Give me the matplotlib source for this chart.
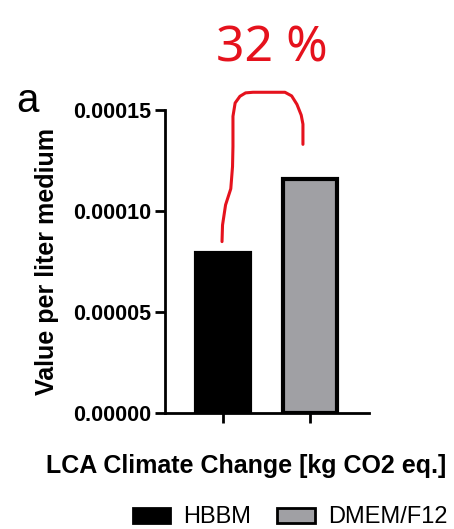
import matplotlib
matplotlib.use('Agg')
import matplotlib.pyplot as plt
from matplotlib.patches import Patch

plt.rcParams['font.family'] = ['Liberation Sans', 'DejaVu Sans']

# Data
groups = ['HBBM', 'DMEM/F12']
values = [0.0000790, 0.0001156]
colors = ['#000000', '#a0a0a4']
yticks = [0.0, 0.00005, 0.00010, 0.00015]
ytick_labels = ['0.00000', '0.00005', '0.00010', '0.00015']
note = '32 %'

fig = plt.figure(figsize=(4.54, 5.29), dpi=100)
ax = fig.add_axes([0.3634, 0.2198, 0.4494, 0.5722])

xpos = list(range(len(groups)))
ax.bar(xpos, values, width=0.62, color=colors, edgecolor='black', linewidth=3.0)

ax.set_xlim(-0.667, 1.68)
ax.set_ylim(0, 0.00015)
ax.set_yticks(yticks)
ax.set_yticklabels(ytick_labels, fontsize=15.5, fontweight='bold')
ax.set_xticks(xpos)
ax.set_xticklabels([])
ax.tick_params(axis='both', width=2.0, length=7, direction='out', pad=3)

for s in ['top', 'right']:
    ax.spines[s].set_visible(False)
for s in ['left', 'bottom']:
    ax.spines[s].set_linewidth(2.0)

ax.set_ylabel('Value per liter medium', fontsize=18, fontweight='bold', labelpad=10)
ax.set_xlabel('LCA Climate Change [kg CO2 eq.]', fontsize=18, fontweight='bold')
ax.xaxis.set_label_coords(0.397, -0.135)

# panel letter
fig.text(0.036, 0.788, 'a', fontsize=29, ha='left', va='baseline')

# hand-drawn red bracket and note
bx = [-0.011, -0.005, 0.03, 0.09, 0.11, 0.115, 0.115, 0.14, 0.195, 0.26, 0.345,
      0.713, 0.79, 0.851, 0.9, 0.92, 0.92]
by = [0.0000848, 0.0000930, 0.0001030, 0.0001110, 0.0001220, 0.0001320, 0.0001469,
      0.0001535, 0.0001568, 0.0001585, 0.0001588, 0.0001588, 0.0001570, 0.0001528,
      0.0001475, 0.0001430, 0.0001330]
ax.plot(bx, by, color='#e5121d', linewidth=2.2, clip_on=False,
        solid_capstyle='round', solid_joinstyle='round')
ax.text(0.56, 0.0001805, note, color='#e5121d', fontsize=36, ha='center', va='center',
        family=['Noto Sans', 'DejaVu Sans'], fontweight='light')

handles = [Patch(facecolor=c, edgecolor='black', linewidth=2.0) for c in colors]
fig.legend(handles, groups, loc='center', bbox_to_anchor=(0.639, 0.022), ncol=2,
           frameon=False, fontsize=17, handlelength=1.6, handleheight=0.6,
           columnspacing=1.1, handletextpad=0.55, borderpad=0)

plt.savefig('out.png', dpi=100)
